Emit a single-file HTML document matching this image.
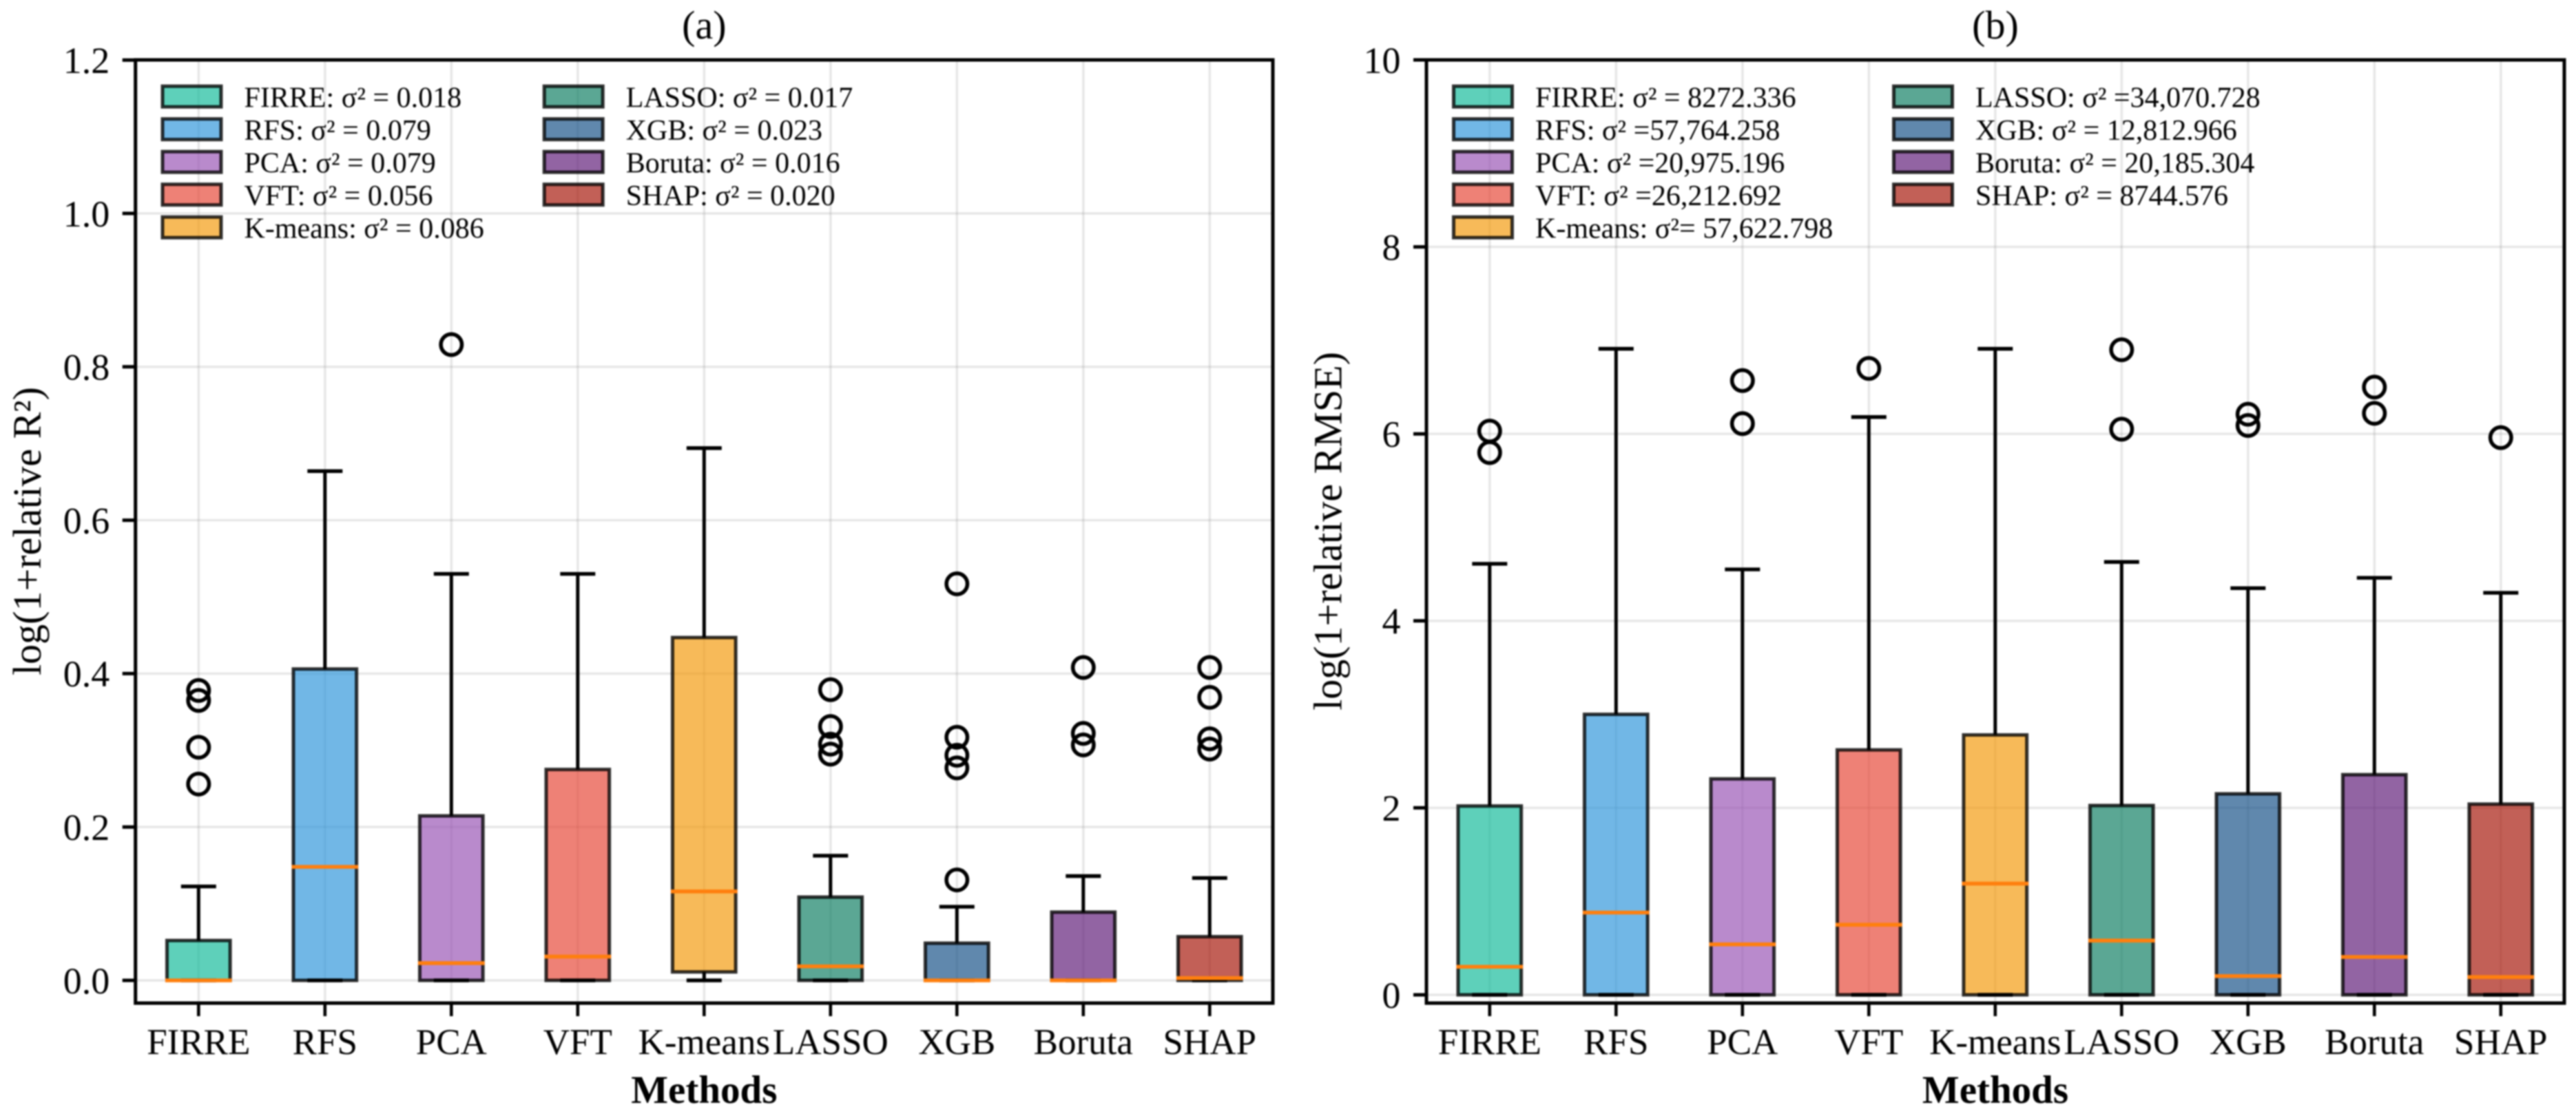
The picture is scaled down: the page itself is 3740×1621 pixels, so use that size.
<!DOCTYPE html>
<html lang="en">
<head>
<meta charset="utf-8">
<title>Box plots of log relative R² and RMSE by method</title>
<style>
html,body{margin:0;padding:0;background:#fff;width:3740px;height:1621px;overflow:hidden}
#chart{display:block;filter:blur(1px)}
text{font-family:"Liberation Serif","Times New Roman",serif;fill:#000}
</style>
</head>
<body>
<svg id="chart" xmlns="http://www.w3.org/2000/svg" width="3740" height="1621" viewBox="0 0 3740 1621"></svg>
<script>
const categories = ['FIRRE','RFS','PCA','VFT','K-means','LASSO','XGB','Boruta','SHAP'];
const fillColors = ['#1abc9c','#3498db','#9b59b6','#e74c3c','#f39c12','#168166','#1c568a','#64227c','#a81c10'];

const r2TickLabels = ['0.0','0.2','0.4','0.6','0.8','1.0','1.2'];
const r2Q1 = [0,0,0,0,0.011,0,0,0,0];
const r2Median = [0,0.148,0.0225,0.031,0.116,0.0183,0,0,0.003];
const r2Q3 = [0.052,0.406,0.2145,0.275,0.447,0.1086,0.0485,0.089,0.057];
const r2WhiskerLow = [0,0,0,0,0,0,0,0,0];
const r2WhiskerHigh = [0.1225,0.664,0.53,0.53,0.694,0.1625,0.096,0.136,0.1335];
const r2Fliers = [[0.256,0.304,0.365,0.378],[],[0.829],[],[],[0.295,0.308,0.331,0.379],[0.131,0.277,0.2935,0.317,0.517],[0.307,0.322,0.408],[0.3016,0.315,0.369,0.408]];
const r2Legend = ['FIRRE: σ² = 0.018','RFS: σ² = 0.079','PCA: σ² = 0.079','VFT: σ² = 0.056','K-means: σ² = 0.086','LASSO: σ² = 0.017','XGB: σ² = 0.023','Boruta: σ² = 0.016','SHAP: σ² = 0.020'];

const rmseTickLabels = ['0','2','4','6','8','10'];
const rmseQ1 = [0,0,0,0,0,0,0,0,0];
const rmseMedian = [0.3,0.88,0.54,0.75,1.19,0.58,0.2,0.405,0.19];
const rmseQ3 = [2.02,3.0,2.31,2.62,2.78,2.025,2.15,2.355,2.04];
const rmseWhiskerLow = [0,0,0,0,0,0,0,0,0];
const rmseWhiskerHigh = [4.61,6.91,4.55,6.18,6.91,4.63,4.35,4.46,4.3];
const rmseFliers = [[5.8,6.03],[],[6.11,6.57],[6.7],[],[6.05,6.9],[6.09,6.21],[6.22,6.5],[5.96]];
const rmseLegend = ['FIRRE: σ² = 8272.336','RFS: σ² =57,764.258','PCA: σ² =20,975.196','VFT: σ² =26,212.692','K-means: σ²= 57,622.798','LASSO: σ² =34,070.728','XGB: σ² = 12,812.966','Boruta: σ² = 20,185.304','SHAP: σ² = 8744.576'];

const NS = 'http://www.w3.org/2000/svg';
const svg = document.getElementById('chart');

function add(parent, tag, name, props, content) {
  const el = document.createElementNS(NS, tag);
  
  
  for (const k in props) el.setAttribute(k, props[k]);
  if (content !== undefined) el.textContent = content;
  parent.appendChild(el);
  return el;
}

function drawPanel(p) {
  const g = add(svg, 'g', p.id + '-panel', {});
  const xScale = i => p.x0 + i * p.step;
  const yScale = v => p.yZero - v * p.yUnit;
  const tickValue = t => parseFloat(t);

  // Grid
  const grid = add(g, 'g', p.id + '-grid', {stroke:'#808080','stroke-opacity':0.2,'stroke-width':3.4});
  categories.forEach((c, i) => {
    add(grid, 'line', 'x-gridline-' + c, {x1:xScale(i),x2:xScale(i),y1:p.top,y2:p.bottom});
  });
  p.ticks.forEach(t => {
    add(grid, 'line', 'y-gridline-' + t, {x1:p.left,x2:p.right,y1:yScale(tickValue(t)),y2:yScale(tickValue(t))});
  });

  // Boxes
  const boxW = 91.7;
  const capW = 51;
  categories.forEach((c, i) => {
    const b = add(g, 'g', p.id + '-box-' + c, {});
    const x = xScale(i);
    const yTop = yScale(p.q3[i]);
    const yBot = yScale(p.q1[i]);
    add(b, 'rect', 'box-body', {x:x-boxW/2,y:yTop,width:boxW,height:yBot-yTop,fill:fillColors[i],'fill-opacity':0.7,stroke:'#000','stroke-opacity':0.8,'stroke-width':5});
    add(b, 'line', 'upper-whisker', {x1:x,x2:x,y1:yTop,y2:yScale(p.high[i]),stroke:'#000','stroke-width':5});
    add(b, 'line', 'lower-whisker', {x1:x,x2:x,y1:yBot,y2:yScale(p.low[i]),stroke:'#000','stroke-width':5});
    add(b, 'line', 'upper-cap', {x1:x-capW/2,x2:x+capW/2,y1:yScale(p.high[i]),y2:yScale(p.high[i]),stroke:'#000','stroke-width':5.4});
    add(b, 'line', 'lower-cap', {x1:x-capW/2,x2:x+capW/2,y1:yScale(p.low[i]),y2:yScale(p.low[i]),stroke:'#000','stroke-width':5.4});
    add(b, 'line', 'median-line', {x1:x-boxW/2-2.5,x2:x+boxW/2+2.5,y1:yScale(p.med[i]),y2:yScale(p.med[i]),stroke:'#ff7f0e','stroke-width':5.6});
    p.fliers[i].forEach(v => {
      add(b, 'circle', 'outlier-point', {cx:x,cy:yScale(v),r:15.2,fill:'none',stroke:'#000','stroke-width':5.6});
    });
  });

  // Frame
  add(g, 'rect', p.id + '-axes-frame', {x:p.left,y:p.top,width:p.right-p.left,height:p.bottom-p.top,fill:'none',stroke:'#000','stroke-width':5});

  // X axis
  categories.forEach((c, i) => {
    add(g, 'line', 'x-tick-' + c, {x1:xScale(i),x2:xScale(i),y1:p.bottom,y2:p.bottom+19,stroke:'#000','stroke-width':4.6});
    add(g, 'text', 'x-tick-label-' + c, {x:xScale(i),y:1531,'font-size':53,'text-anchor':'middle'}, c);
  });

  // Y axis
  p.ticks.forEach(t => {
    const y = yScale(tickValue(t));
    add(g, 'line', 'y-tick-' + t, {x1:p.left-19,x2:p.left,y1:y,y2:y,stroke:'#000','stroke-width':5});
    add(g, 'text', 'y-tick-label-' + t, {x:p.left-37.5,y:y+18.8,'font-size':54,'text-anchor':'end'}, t);
  });

  // Titles
  const cx = (p.left + p.right) / 2;
  add(g, 'text', p.id + '-title', {x:cx,y:56,'font-size':58,'text-anchor':'middle'}, p.title);
  add(g, 'text', p.id + '-x-axis-title', {x:cx,y:1602,'font-size':57,'font-weight':'bold','text-anchor':'middle'}, 'Methods');
  add(g, 'text', p.id + '-y-axis-title', {transform:'translate(' + p.ylabelX + ' ' + p.ylabelY + ') rotate(-90)','font-size':58,'text-anchor':'middle'}, p.ylabel);

  // Legend
  const lg = add(g, 'g', p.id + '-legend', {});
  p.legend.forEach((label, i) => {
    const col = i < 5 ? 0 : 1;
    const row = i < 5 ? i : i - 5;
    const sx = col === 0 ? p.legendX1 : p.legendX2;
    const cy = 140.2 + row * 47.5;
    const e = add(lg, 'g', 'legend-entry-' + categories[i], {});
    add(e, 'rect', 'legend-swatch', {x:sx,y:cy-15,width:85,height:30,fill:fillColors[i],'fill-opacity':0.7,stroke:'#000','stroke-opacity':0.8,'stroke-width':5});
    add(e, 'text', 'legend-label', {x:sx+118.5,y:cy+15.5,'font-size':42}, label);
  });
}

drawPanel({id:'r2',title:'(a)',ylabel:'log(1+relative R²)',left:196.7,right:1848,top:87,bottom:1457,x0:288.3,step:183.5,yZero:1424,yUnit:1114,ticks:r2TickLabels,q1:r2Q1,med:r2Median,q3:r2Q3,low:r2WhiskerLow,high:r2WhiskerHigh,fliers:r2Fliers,legend:r2Legend,legendX1:236,legendX2:790.2,ylabelX:59,ylabelY:771.5});
drawPanel({id:'rmse',title:'(b)',ylabel:'log(1+relative RMSE)',left:2071,right:3723,top:87,bottom:1457,x0:2162.8,step:183.5,yZero:1445,yUnit:135.8,ticks:rmseTickLabels,q1:rmseQ1,med:rmseMedian,q3:rmseQ3,low:rmseWhiskerLow,high:rmseWhiskerHigh,fliers:rmseFliers,legend:rmseLegend,legendX1:2110.5,legendX2:2749.5,ylabelX:1947.5,ylabelY:771.5});
</script>
</body>
</html>
